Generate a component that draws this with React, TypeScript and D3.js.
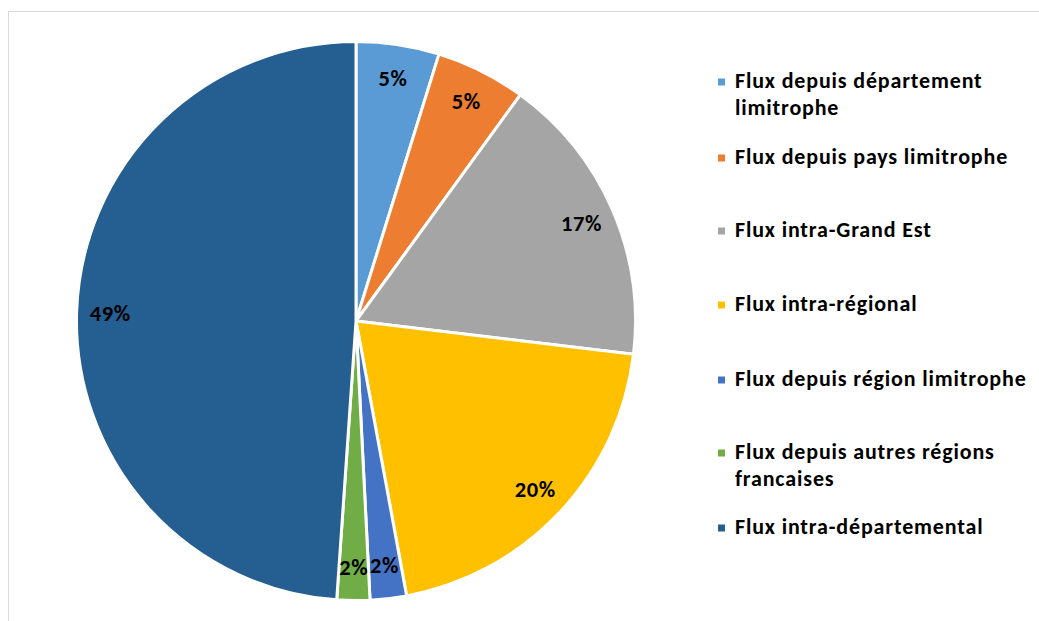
import React from "react";
import * as d3 from "d3";

const categories = [
  "Flux depuis département limitrophe",
  "Flux depuis pays limitrophe",
  "Flux intra-Grand Est",
  "Flux intra-régional",
  "Flux depuis région limitrophe",
  "Flux depuis autres régions francaises",
  "Flux intra-départemental",
];
const values = [4.8, 5.2, 16.9, 20.2, 2.1, 1.9, 48.9];
const labels = ["5%", "5%", "17%", "20%", "2%", "2%", "49%"];
const legendLines = [
  ["Flux depuis département", "limitrophe"],
  ["Flux depuis pays limitrophe"],
  ["Flux intra-Grand Est"],
  ["Flux intra-régional"],
  ["Flux depuis région limitrophe"],
  ["Flux depuis autres régions", "francaises"],
  ["Flux intra-départemental"],
];
const colors = ["#5B9BD5", "#ED7D31", "#A5A5A5", "#FFC000", "#4472C4", "#70AD47", "#255E91"];

// layout
const W = 1039;
const H = 621;
const cx = 356;
const cy = 321;
const R = 279.5;
const labelR = 246;
const legendBaselines = [88, 164, 237, 311, 386, 459, 534];
const legendLineGap = 27;
const FONT = "Carlito, Lato, 'Open Sans', sans-serif";

export default function App() {
  const pie = d3.pie<number>().sort(null).value((d) => d)(values);
  const arc = d3.arc<d3.PieArcDatum<number>>().innerRadius(0).outerRadius(R);
  const lblArc = d3.arc<d3.PieArcDatum<number>>().innerRadius(labelR).outerRadius(labelR);

  return (
    <svg
      width={W}
      height={H}
      style={{ position: "absolute", left: 0, top: 0, background: "#fff" }}
      fontFamily={FONT}
    >
      <rect x={8.5} y={11.5} width={1040} height={640} fill="#fff" stroke="#D9D9D9" strokeWidth={1} />
      <g transform={`translate(${cx},${cy})`}>
        {pie.map((p, i) => (
          <path key={categories[i]} d={arc(p) || ""} fill={colors[i]} stroke="#fff" strokeWidth={3} strokeLinejoin="round" />
        ))}
        {pie.map((p, i) => {
          const [x, y] = lblArc.centroid(p);
          return (
            <text
              key={"l" + i}
              x={x}
              y={y}
              dy="0.36em"
              textAnchor="middle"
              fontWeight="bold"
              fontSize={22.5}
              letterSpacing={0.6}
              fill="#000"
            >
              {labels[i]}
            </text>
          );
        })}
      </g>
      <g>
        {legendLines.map((lines, i) => (
          <g key={"lg" + i}>
            <rect x={718} y={legendBaselines[i] - 9.5} width={7} height={7} fill={colors[i]} />
            <text x={735} y={legendBaselines[i]} fontWeight="bold" fontSize={22} letterSpacing={0.85} fill="#000">
              {lines.map((t, j) => (
                <tspan key={j} x={735} y={legendBaselines[i] + j * legendLineGap}>
                  {t}
                </tspan>
              ))}
            </text>
          </g>
        ))}
      </g>
    </svg>
  );
}
